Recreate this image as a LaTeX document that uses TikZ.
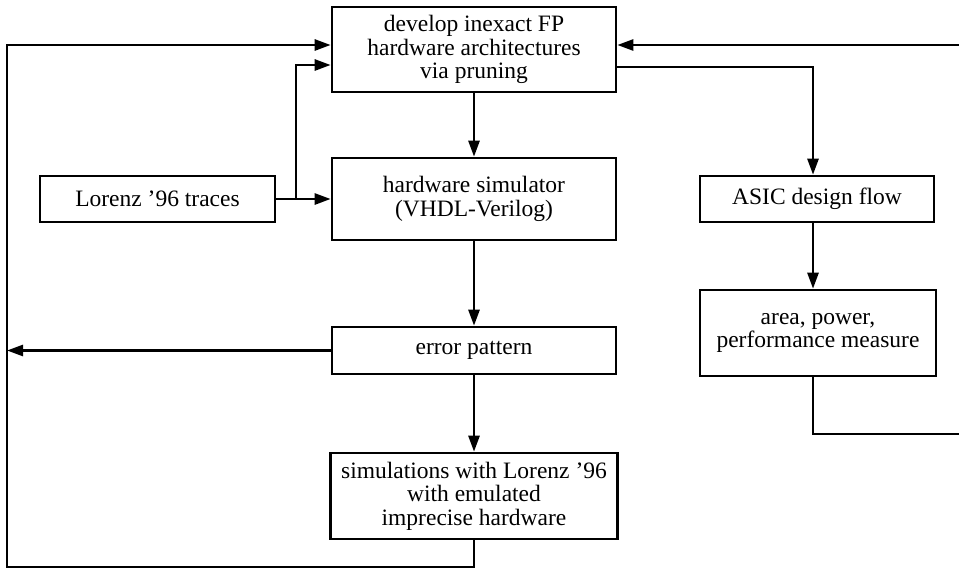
\documentclass[tikz,border=0pt]{standalone}
\usepackage{fontspec}
\setmainfont{Liberation Serif}
\usetikzlibrary{arrows.meta}
\begin{document}
\begin{tikzpicture}[x=1pt,y=-1pt,
  box/.style={draw,line width=2.6pt,rectangle,inner sep=0pt,align=center,
    font=\fontsize{23.5}{23.5}\selectfont},
  conn/.style={line width=2.6pt},
  arr/.style={conn,-{Triangle[length=16pt,width=11pt]}}]
\useasboundingbox (0,0) rectangle (959,570);
\node[box,minimum width=284pt,minimum height=85pt] (dev) at (474,49.5) {develop inexact FP\\hardware architectures\\via pruning};
\node[box,minimum width=284pt,minimum height=82pt] (sim) at (474,199) {hardware simulator\\(VHDL-Verilog)};
\node[box,minimum width=235pt,minimum height=46pt] (lor) at (157.5,199) {Lorenz ’96 traces};
\node[box,minimum width=234pt,minimum height=46pt] (asic) at (817,199) {ASIC design flow};
\node[box,minimum width=236pt,minimum height=86pt] (area) at (818,333) {area, power,\\performance measure};
\node[box,minimum width=284pt,minimum height=47pt] (err) at (474,350.5) {error pattern};
\node[box,minimum width=287pt,minimum height=86pt] (simu) at (474,496) {simulations with Lorenz ’96\\with emulated\\imprecise hardware};
\coordinate (tl) at (7,45);
\coordinate (bl) at (7,567);
\coordinate (br) at (474,567);
\coordinate (fork) at (296,199);
\coordinate (rb) at (813,434);
\coordinate (rc) at (962,434);
\coordinate (rt) at (962,45);
\draw[arr] (dev.south) -- (sim.north);
\draw[arr] (sim.south) -- (err.north);
\draw[arr] (err.south) -- (simu.north);
\draw[arr] (err.west) -- (err.west -| tl);
\draw[arr] (lor.east) -- (sim.west);
\draw[arr] (fork) |- ([yshift=-15.5pt]dev.west);
\draw[arr] (simu.south) -- (br) -- (bl) -- (tl) -- (dev.west |- tl);
\draw[arr] ([yshift=-17.5pt]dev.east) -| (asic.north -| rb);
\draw[arr] (asic.south -| rb) -- (area.north -| rb);
\draw[conn] (area.south -| rb) -- (rb) -- (rc) -- (rt);
\draw[arr] (rt) -- (dev.east |- rt);
\end{tikzpicture}
\end{document}
